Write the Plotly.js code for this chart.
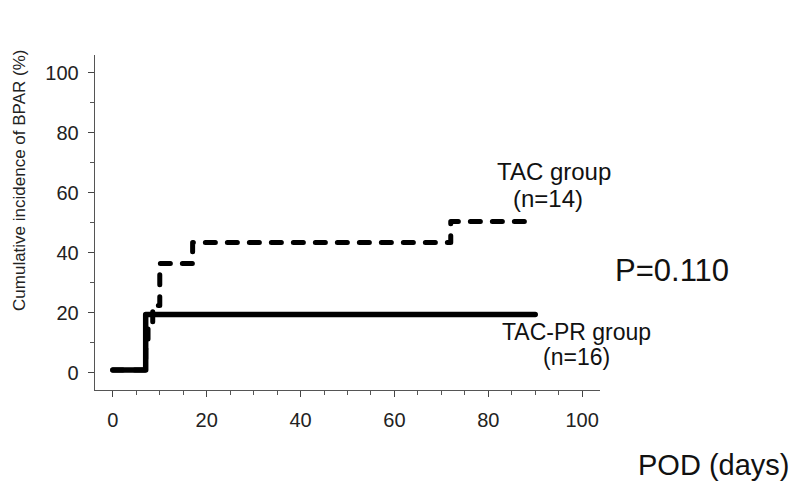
<!DOCTYPE html>
<html>
<head>
<meta charset="utf-8">
<script src="https://cdn.plot.ly/plotly-3.0.1.min.js"></script>
<style>
  html, body { margin: 0; padding: 0; background: #fff; }
  #chart { width: 794px; height: 484px; }
  .scatterlayer .js-line { stroke-linecap: round; stroke-linejoin: round; }
</style>
</head>
<body>
<div id="chart"></div>
<script>
// Data
var tacDays   = [0, 7, 7.5, 8.5, 10, 17, 72, 90];
var tacValues = [1, 8, 15, 22.5, 36.5, 43.5, 50.5, 50.5];
var prDays    = [0, 7, 90];
var prValues  = [1, 19.5, 19.5];
var xTicks = [0, 20, 40, 60, 80, 100];
var yTicks = [0, 20, 40, 60, 80, 100];

var font = 'Arial, "Liberation Sans", Helvetica, sans-serif';

var traces = [
  {
    x: prDays, y: prValues, type: 'scatter', mode: 'lines',
    line: { shape: 'hv', color: '#000', width: 5.5 },
    name: 'TAC-PR group', showlegend: false, hoverinfo: 'skip'
  },
  {
    x: tacDays, y: tacValues, type: 'scatter', mode: 'lines',
    line: { shape: 'hv', color: '#000', width: 5, dash: '10px,12px' },
    name: 'TAC group', showlegend: false, hoverinfo: 'skip'
  }
];

var layout = {
  width: 794, height: 484,
  margin: { l: 95, r: 194, t: 55, b: 94 },
  paper_bgcolor: '#fff', plot_bgcolor: '#fff',
  font: { family: font, color: '#111' },
  xaxis: {
    range: [-3.8, 103.8],
    tickvals: xTicks, ticktext: xTicks.map(String),
    ticks: 'outside', ticklen: 6, tickwidth: 1, tickcolor: '#444',
    minor: { dtick: 5, ticks: 'outside', ticklen: 4, tickcolor: '#555' },
    showline: true, linecolor: '#555', linewidth: 1.3,
    showgrid: false, zeroline: false,
    ticklabelstandoff: 6,
    tickfont: { family: font, size: 20, color: '#222' }
  },
  yaxis: {
    range: [-5.7, 106],
    tickvals: yTicks, ticktext: yTicks.map(String),
    ticks: 'outside', ticklen: 6, tickwidth: 1, tickcolor: '#444',
    minor: { dtick: 10, ticks: 'outside', ticklen: 4, tickcolor: '#555' },
    showline: true, linecolor: '#555', linewidth: 1.3,
    showgrid: false, zeroline: false,
    ticklabelstandoff: 5,
    tickfont: { family: font, size: 20, color: '#222' }
  },
  annotations: [
    { text: 'Cumulative incidence of BPAR (%)', textangle: -90,
      xref: 'paper', yref: 'paper', x: -0.1485, y: 0.624,
      xanchor: 'center', yanchor: 'middle', showarrow: false,
      font: { family: font, size: 17, color: '#222' } },
    { text: 'POD (days)', xref: 'paper', yref: 'paper', x: 1.2238, y: -0.2239,
      xanchor: 'center', yanchor: 'middle', showarrow: false,
      font: { family: font, size: 29, color: '#111' } },
    { text: 'TAC group', xref: 'x', yref: 'y', x: 94.0, y: 67,
      xanchor: 'center', yanchor: 'middle', showarrow: false,
      font: { family: font, size: 24, color: '#111' } },
    { text: '(n=14)', xref: 'x', yref: 'y', x: 92.8, y: 58,
      xanchor: 'center', yanchor: 'middle', showarrow: false,
      font: { family: font, size: 24, color: '#111' } },
    { text: 'P=0.110', xref: 'paper', yref: 'paper', x: 1.1426, y: 0.3582,
      xanchor: 'center', yanchor: 'middle', showarrow: false,
      font: { family: font, size: 31, color: '#111' } },
    { text: 'TAC-PR group', xref: 'x', yref: 'y', x: 98.7, y: 13.7,
      xanchor: 'center', yanchor: 'middle', showarrow: false,
      font: { family: font, size: 23, color: '#111' } },
    { text: '(n=16)', xref: 'x', yref: 'y', x: 98.7, y: 5.3,
      xanchor: 'center', yanchor: 'middle', showarrow: false,
      font: { family: font, size: 23, color: '#111' } }
  ]
};

Plotly.newPlot('chart', traces, layout, { staticPlot: true, displayModeBar: false });
</script>
</body>
</html>
